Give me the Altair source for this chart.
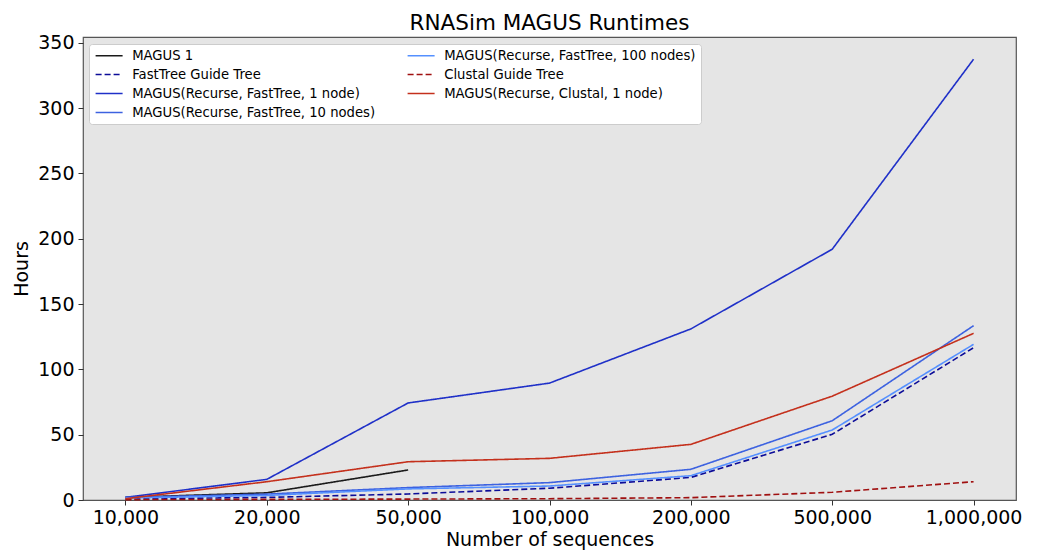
import altair as alt
import pandas as pd

# Dataset sizes (x categories)
sizes = ["10,000", "20,000", "50,000", "100,000", "200,000", "500,000", "1,000,000"]

# Runtimes in hours per method
magus1 = [2.0, 5.5, 23.0]
fasttree_guide = [0.8, 2.0, 4.6, 9.0, 17.3, 50.3, 116.6]
rec_ft_1 = [2.0, 15.8, 74.3, 89.5, 131.0, 192.0, 337.5]
rec_ft_10 = [2.0, 4.5, 9.5, 13.3, 23.5, 60.7, 133.5]
rec_ft_100 = [1.5, 3.5, 8.5, 10.7, 18.6, 53.6, 119.2]
clustal_guide = [0.3, 0.5, 0.7, 1.0, 1.8, 5.9, 14.0]
rec_cl_1 = [1.0, 14.0, 29.3, 31.9, 42.6, 79.5, 127.6]

series = {
    "MAGUS 1": magus1,
    "FastTree Guide Tree": fasttree_guide,
    "MAGUS(Recurse, FastTree, 1 node)": rec_ft_1,
    "MAGUS(Recurse, FastTree, 10 nodes)": rec_ft_10,
    "MAGUS(Recurse, FastTree, 100 nodes)": rec_ft_100,
    "Clustal Guide Tree": clustal_guide,
    "MAGUS(Recurse, Clustal, 1 node)": rec_cl_1,
}

rows = []
for order, (name, vals) in enumerate(series.items()):
    for s, v in zip(sizes, vals):
        rows.append({"method": name, "size": s, "hours": v, "order": order})
df = pd.DataFrame(rows)

legend_order = list(series.keys())
style = {
    "MAGUS 1": ("#1a1a1a", [1, 0]),
    "FastTree Guide Tree": ("#0c0c98", [6, 3]),
    "MAGUS(Recurse, FastTree, 1 node)": ("#1f30c8", [1, 0]),
    "MAGUS(Recurse, FastTree, 10 nodes)": ("#3d62e0", [1, 0]),
    "MAGUS(Recurse, FastTree, 100 nodes)": ("#5590ff", [1, 0]),
    "Clustal Guide Tree": ("#a01010", [6, 3]),
    "MAGUS(Recurse, Clustal, 1 node)": ("#c4301c", [1, 0]),
}
colors = [style[k][0] for k in legend_order]
dashes = [style[k][1] for k in legend_order]

FONT = "DejaVu Sans"

legend = alt.Legend(
    title=None,
    orient="none",
    legendX=6,
    legendY=7,
    columns=2,
    symbolType="M-1,0H4.4",
    symbolSize=100,
    symbolStrokeWidth=1.5,
    labelFont=FONT,
    labelFontSize=13.2,
    labelColor="#000000",
    labelLimit=400,
    labelOffset=25,
    fillColor="#ffffff",
    strokeColor="#cccccc",
    cornerRadius=3,
    padding=5,
    rowPadding=5,
    columnPadding=28,
)

chart = (
    alt.Chart(df)
    .mark_line(strokeWidth=1.6)
    .encode(
        x=alt.X(
            "size:O",
            sort=sizes,
            scale=alt.Scale(padding=0.3),
            axis=alt.Axis(
                title="Number of sequences",
                labelAngle=0,
                labelFontSize=19,
                titleFontSize=19,
                labelPadding=3,
                titlePadding=3,
                tickSize=5,
            ),
        ),
        y=alt.Y(
            "hours:Q",
            scale=alt.Scale(domain=[0, 354.5], nice=False),
            axis=alt.Axis(
                title="Hours",
                values=[0, 50, 100, 150, 200, 250, 300, 350],
                labelFontSize=19,
                titleFontSize=19,
                labelPadding=4,
                titlePadding=6,
                tickSize=5,
            ),
        ),
        color=alt.Color(
            "method:N",
            scale=alt.Scale(domain=legend_order, range=colors),
            legend=legend,
        ),
        strokeDash=alt.StrokeDash(
            "method:N",
            scale=alt.Scale(domain=legend_order, range=dashes),
            legend=legend,
        ),
        order="order:Q",
    )
    .properties(
        width=933,
        height=463,
        title=alt.Title("RNASim MAGUS Runtimes", fontSize=21.5, font=FONT,
                        fontWeight="normal", offset=-1),
        autosize=alt.AutoSizeParams(type="none"),
        padding={"left": 83, "top": 37, "right": 25, "bottom": 52},
    )
    .configure(font=FONT, background="#ffffff")
    .configure_view(fill="#e5e5e5", stroke="#555555", strokeWidth=1.2)
    .configure_axis(
        grid=False,
        domain=False,
        labelFont=FONT,
        titleFont=FONT,
        labelColor="#000000",
        titleColor="#000000",
        titleFontWeight="normal",
        tickColor="#333333",
        tickWidth=1,
    )
)

chart.save("out.html", embed_options={"renderer": "svg", "actions": False})
